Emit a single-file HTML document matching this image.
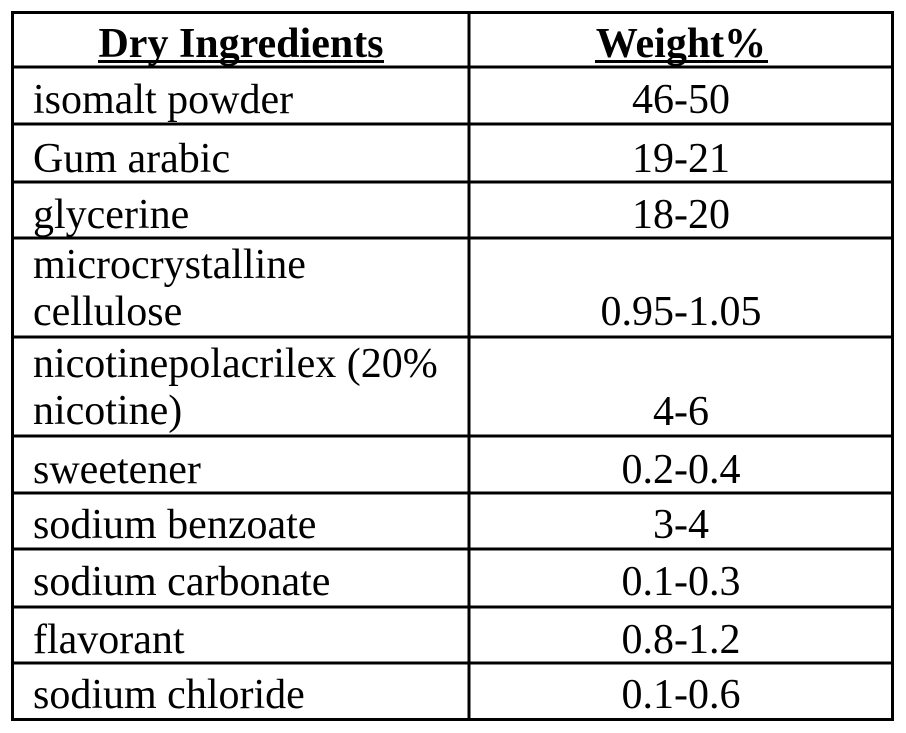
<!DOCTYPE html>
<html><head><style>html,body{margin:0;padding:0;background:#fff;}svg{display:block}</style></head>
<body>
<svg width="906" height="733" xmlns="http://www.w3.org/2000/svg" font-family="'Liberation Serif', serif" font-size="42" fill="#000">
<g stroke="#000" stroke-width="3">
<rect x="12.5" y="12.5" width="880" height="707" fill="none"/>
<line x1="469" y1="11" x2="469" y2="721"/>
<line x1="11" y1="67" x2="894" y2="67"/>
<line x1="11" y1="124" x2="894" y2="124"/>
<line x1="11" y1="182" x2="894" y2="182"/>
<line x1="11" y1="238" x2="894" y2="238"/>
<line x1="11" y1="337" x2="894" y2="337"/>
<line x1="11" y1="436" x2="894" y2="436"/>
<line x1="11" y1="493" x2="894" y2="493"/>
<line x1="11" y1="549" x2="894" y2="549"/>
<line x1="11" y1="607" x2="894" y2="607"/>
<line x1="11" y1="663" x2="894" y2="663"/>
<line x1="98" y1="61.5" x2="384" y2="61.5"/>
<line x1="595" y1="61.5" x2="768" y2="61.5"/>
</g>
<g font-weight="bold" text-anchor="middle" font-size="42">
<text x="241" y="57">Dry Ingredients</text>
<text x="681" y="57">Weight%</text>
</g>
<g>
<text x="33" y="113">isomalt powder</text>
<text x="33" y="172">Gum arabic</text>
<text x="33" y="228">glycerine</text>
<text x="33" y="278">microcrystalline</text>
<text x="33" y="325">cellulose</text>
<text x="33" y="377">nicotinepolacrilex (20%</text>
<text x="33" y="424">nicotine)</text>
<text x="33" y="483">sweetener</text>
<text x="33" y="538">sodium benzoate</text>
<text x="33" y="595">sodium carbonate</text>
<text x="33" y="653">flavorant</text>
<text x="33" y="708">sodium chloride</text>
</g>
<g text-anchor="middle">
<text x="681" y="113">46-50</text>
<text x="681" y="172">19-21</text>
<text x="681" y="228">18-20</text>
<text x="681" y="325">0.95-1.05</text>
<text x="681" y="425">4-6</text>
<text x="681" y="483">0.2-0.4</text>
<text x="681" y="538">3-4</text>
<text x="681" y="595">0.1-0.3</text>
<text x="681" y="653">0.8-1.2</text>
<text x="681" y="708">0.1-0.6</text>
</g>
</svg>
</body></html>
